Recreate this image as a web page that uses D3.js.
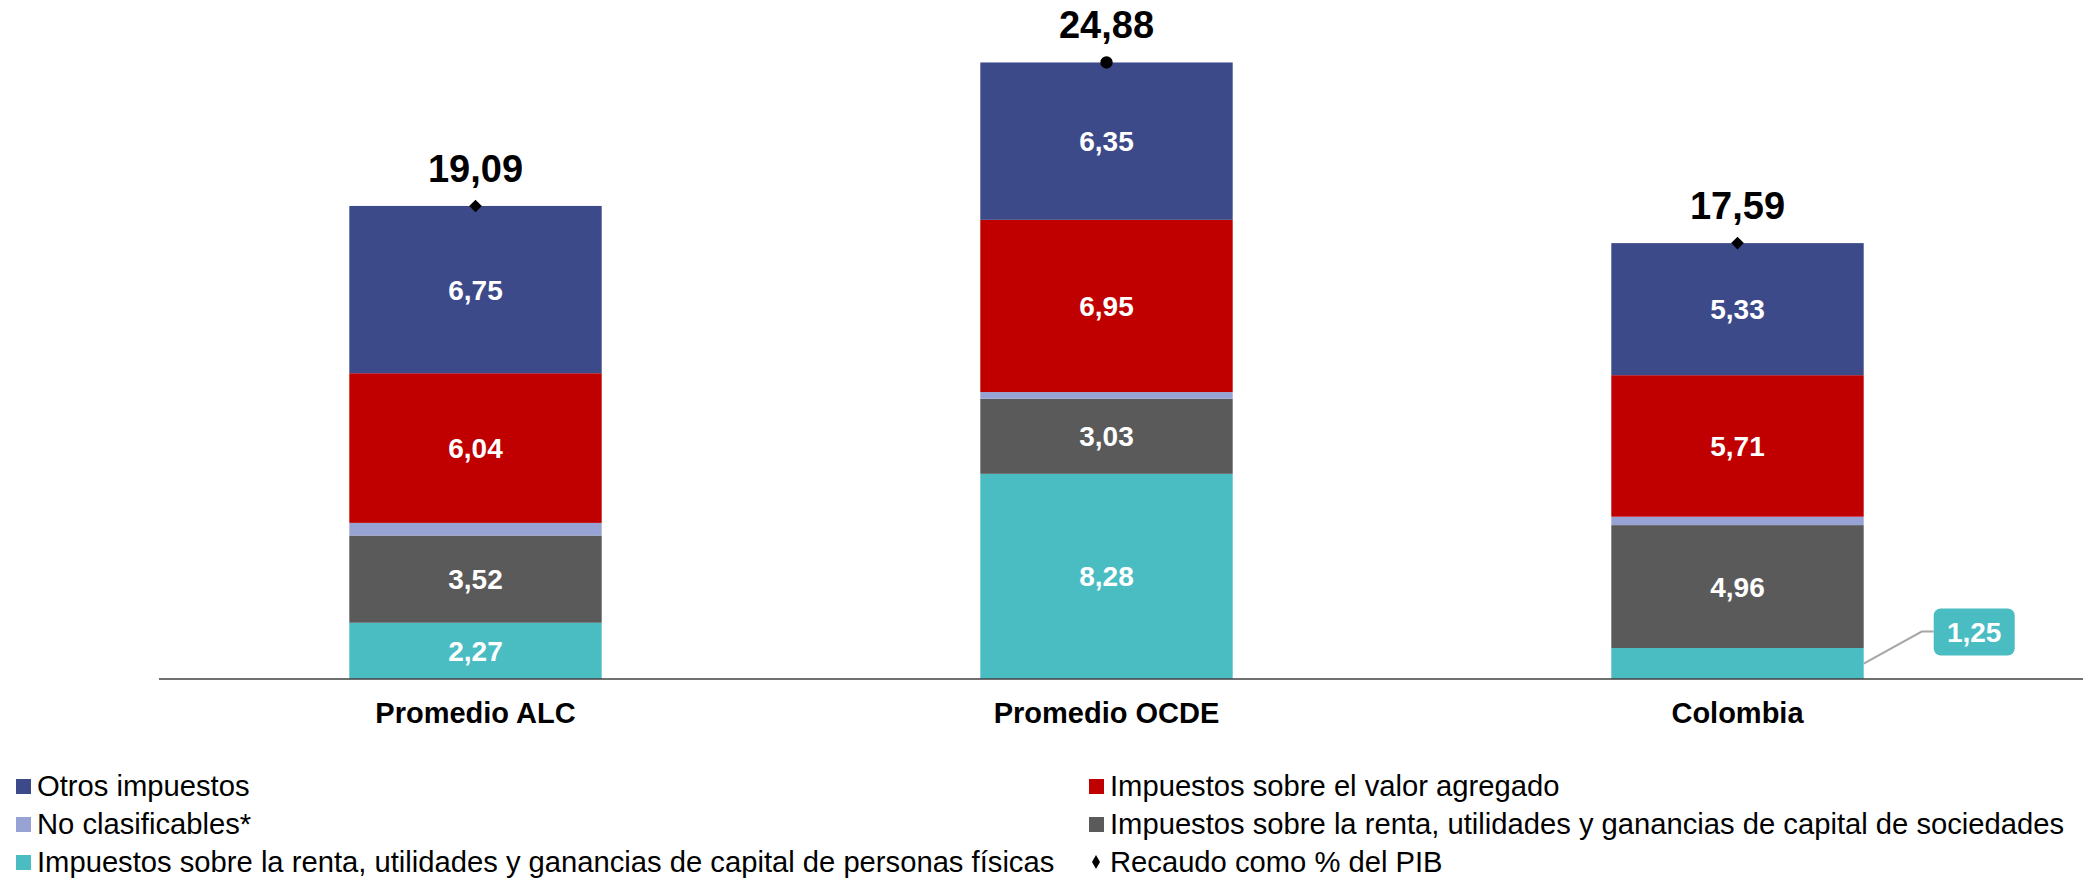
<!doctype html>
<html>
<head>
<meta charset="utf-8">
<script src="https://d3js.org/d3.v7.min.js"></script>
<style>
  body { margin: 0; background: #fff; }
  text { font-family: "Liberation Sans", Arial, sans-serif; }
</style>
</head>
<body>
<svg id="chart" width="2083" height="880"></svg>
<script>
// datos (% del PIB)
var categorias = ["Promedio ALC", "Promedio OCDE", "Colombia"];
var personas = [2.27, 8.28, 1.25];
var sociedades = [3.52, 3.03, 4.96];
var noClasificables = [0.51, 0.27, 0.34];
var valorAgregado = [6.04, 6.95, 5.71];
var otros = [6.75, 6.35, 5.33];
var recaudo = [19.09, 24.88, 17.59];
var marcadores = ["diamond", "circle", "diamond"];

var series = [
  {key: "personas", nombre: "Impuestos sobre la renta, utilidades y ganancias de capital de personas físicas", color: "#4ABDC3", vals: personas},
  {key: "sociedades", nombre: "Impuestos sobre la renta, utilidades y ganancias de capital de sociedades", color: "#5A5A5A", vals: sociedades},
  {key: "noclas", nombre: "No clasificables*", color: "#97A3D4", vals: noClasificables},
  {key: "iva", nombre: "Impuestos sobre el valor agregado", color: "#C00000", vals: valorAgregado},
  {key: "otros", nombre: "Otros impuestos", color: "#3C4A8A", vals: otros}
];

var tabla = categorias.map(function(c, i) {
  var row = {cat: c};
  series.forEach(function(s) { row[s.key] = s.vals[i]; });
  return row;
});

var fmt = d3.formatLocale({decimal: ",", thousands: ".", grouping: [3], currency: ["", ""]}).format(".2f");

var svg = d3.select("#chart");

var xScale = d3.scaleBand().domain(categorias).range([160, 2053])
  .paddingInner(0.6).paddingOuter(0.3);
var yScale = d3.scaleLinear().domain([0, 25]).range([679, 59.5]);

var stack = d3.stack().keys(series.map(function(s) { return s.key; }));
var capas = stack(tabla);

var g = svg.selectAll("g.capa")
  .data(capas)
  .enter()
  .append("g")
  .attr("class", "capa")
  .attr("fill", function(d, i) { return series[i].color; });

g.selectAll("rect")
  .data(function(d) { return d; })
  .enter()
  .append("rect")
  .attr("x", function(d) { return xScale(d.data.cat); })
  .attr("width", xScale.bandwidth())
  .attr("y", function(d) { return yScale(d[1]); })
  .attr("height", function(d) { return yScale(d[0]) - yScale(d[1]); });

// etiquetas dentro de las barras
capas.forEach(function(capa, si) {
  if (series[si].key == "noclas") return;
  capa.forEach(function(d, i) {
    if (series[si].key == "personas" && d.data.cat == "Colombia") return;
    svg.append("text")
      .attr("x", xScale(d.data.cat) + xScale.bandwidth() / 2)
      .attr("y", (yScale(d[0]) + yScale(d[1])) / 2)
      .attr("dy", "0.36em")
      .attr("text-anchor", "middle")
      .attr("fill", "#fff")
      .attr("font-weight", "bold")
      .attr("font-size", "28px")
      .text(fmt(d[1] - d[0]));
  });
});

// callout Colombia personas
var colX = xScale("Colombia") + xScale.bandwidth();
var colY = (yScale(0) + yScale(personas[2])) / 2;
svg.append("polyline")
  .attr("points", [[colX, colY], [colX + 58, colY - 32], [colX + 70, colY - 32]].join(" "))
  .attr("fill", "none")
  .attr("stroke", "#A6A6A6")
  .attr("stroke-width", 2);
svg.append("rect")
  .attr("x", colX + 70).attr("y", colY - 55)
  .attr("width", 81).attr("height", 47)
  .attr("rx", 7)
  .attr("fill", "#4ABDC3");
svg.append("text")
  .attr("x", colX + 110.5).attr("y", colY - 31.5)
  .attr("dy", "0.36em")
  .attr("text-anchor", "middle")
  .attr("fill", "#fff")
  .attr("font-weight", "bold")
  .attr("font-size", "28px")
  .text(fmt(personas[2]));

// eje
svg.append("line")
  .attr("x1", 159).attr("x2", 2083)
  .attr("y1", yScale(0)).attr("y2", yScale(0))
  .attr("stroke", "#404040")
  .attr("stroke-width", 1.5);

var xAxis = d3.axisBottom(xScale).tickSize(0).tickPadding(0);
var ejeX = svg.append("g")
  .attr("transform", "translate(0," + yScale(0) + ")")
  .call(xAxis);
ejeX.select(".domain").remove();
ejeX.selectAll("text")
  .attr("y", 44)
  .attr("dy", 0)
  .attr("font-family", "Liberation Sans, Arial, sans-serif")
  .attr("font-size", "29px")
  .attr("font-weight", "bold")
  .attr("fill", "#000");

// total recaudo
var diamante = d3.symbol().type(d3.symbolSquare).size(80);
var circulo = d3.symbol().type(d3.symbolCircle).size(120);
svg.selectAll("path.marca")
  .data(recaudo)
  .enter()
  .append("path")
  .attr("class", "marca")
  .attr("d", function(d, i) { return marcadores[i] == "circle" ? circulo() : diamante(); })
  .attr("transform", function(d, i) {
    var t = "translate(" + (xScale(categorias[i]) + xScale.bandwidth() / 2) + "," + yScale(d) + ")";
    return marcadores[i] == "circle" ? t : t + " rotate(45)";
  })
  .attr("fill", "#000");

svg.selectAll("text.total")
  .data(recaudo)
  .enter()
  .append("text")
  .attr("class", "total")
  .attr("x", function(d, i) { return xScale(categorias[i]) + xScale.bandwidth() / 2; })
  .attr("y", function(d) { return yScale(d) - 24; })
  .attr("text-anchor", "middle")
  .attr("font-weight", "bold")
  .attr("font-size", "38px")
  .attr("fill", "#000")
  .text(function(d) { return fmt(d); });

// leyenda
var leyenda = [
  {s: series[4], col: 0, row: 0},
  {s: series[2], col: 0, row: 1},
  {s: series[0], col: 0, row: 2},
  {s: series[3], col: 1, row: 0},
  {s: series[1], col: 1, row: 1},
  {s: null, col: 1, row: 2}
];
var colsX = [16, 1089];
var rowsY = [796, 834, 872];

var items = svg.selectAll("g.ley")
  .data(leyenda)
  .enter()
  .append("g")
  .attr("class", "ley")
  .attr("transform", function(d) { return "translate(" + colsX[d.col] + "," + rowsY[d.row] + ")"; });

items.each(function(d) {
  var it = d3.select(this);
  if (d.s) {
    it.append("rect").attr("x", 0).attr("y", -17).attr("width", 15).attr("height", 15).attr("fill", d.s.color);
  } else {
    it.append("path").attr("d", d3.symbol().type(d3.symbolDiamond).size(55)())
      .attr("transform", "translate(7,-10)").attr("fill", "#000");
  }
  it.append("text")
    .attr("x", 21)
    .attr("y", 0)
    .attr("font-size", "29.2px")
    .attr("fill", "#000")
    .text(d.s ? d.s.nombre : "Recaudo como % del PIB");
});
</script>
</body>
</html>
